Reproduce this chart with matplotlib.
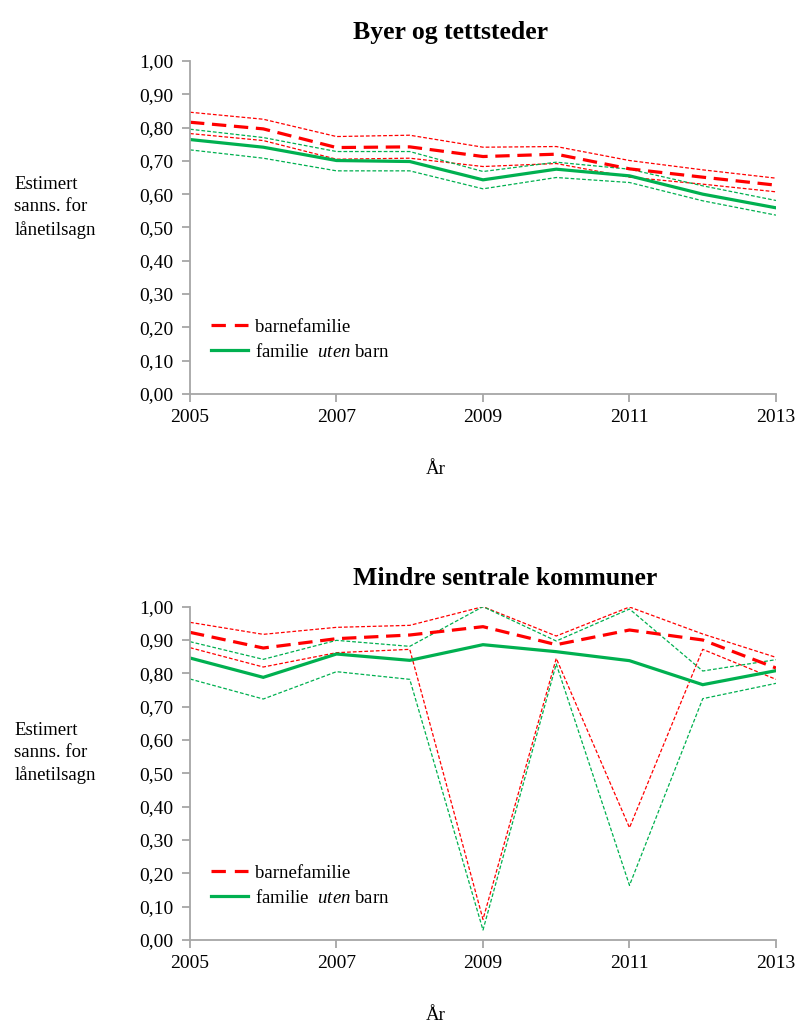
import numpy as np
import matplotlib
matplotlib.use("Agg")
from matplotlib import pyplot as plt
from matplotlib.lines import Line2D

plt.rcParams['font.family'] = ['Liberation Serif', 'DejaVu Serif']
plt.rcParams['mathtext.fontset'] = 'custom'
plt.rcParams['mathtext.rm'] = 'Liberation Serif'
plt.rcParams['mathtext.it'] = 'Liberation Serif:italic'

years = [2005, 2006, 2007, 2008, 2009, 2010, 2011, 2012, 2013]
year_ticks = [2005, 2007, 2009, 2011, 2013]
y_ticks = [0.0, 0.1, 0.2, 0.3, 0.4, 0.5, 0.6, 0.7, 0.8, 0.9, 1.0]

# Byer og tettsteder: estimate with lower/upper confidence band
byer_barn = [0.816, 0.796, 0.740, 0.742, 0.713, 0.720, 0.676, 0.651, 0.627]
byer_barn_lo = [0.782, 0.761, 0.705, 0.708, 0.683, 0.692, 0.651, 0.630, 0.607]
byer_barn_hi = [0.846, 0.825, 0.773, 0.777, 0.741, 0.743, 0.701, 0.673, 0.648]
byer_uten = [0.764, 0.741, 0.701, 0.698, 0.643, 0.675, 0.655, 0.600, 0.559]
byer_uten_lo = [0.733, 0.708, 0.670, 0.670, 0.616, 0.650, 0.635, 0.580, 0.537]
byer_uten_hi = [0.795, 0.770, 0.728, 0.728, 0.668, 0.696, 0.675, 0.625, 0.581]

# Mindre sentrale kommuner
mindre_barn = [0.923, 0.876, 0.904, 0.915, 0.940, 0.886, 0.930, 0.900, 0.816]
mindre_barn_lo = [0.877, 0.819, 0.862, 0.872, 0.062, 0.845, 0.337, 0.872, 0.782]
mindre_barn_hi = [0.953, 0.917, 0.938, 0.944, 1.000, 0.912, 0.999, 0.918, 0.848]
mindre_uten = [0.846, 0.788, 0.858, 0.839, 0.886, 0.865, 0.838, 0.766, 0.808]
mindre_uten_lo = [0.783, 0.723, 0.805, 0.782, 0.030, 0.828, 0.164, 0.724, 0.770]
mindre_uten_hi = [0.895, 0.842, 0.899, 0.881, 1.000, 0.897, 0.993, 0.807, 0.841]

RED = '#FF0000'
GREEN = '#00B050'
AXIS_GREY = '#A6A6A6'


def draw_panel(ax, title, barn, barn_lo, barn_hi, uten, uten_lo, uten_hi):
    dot = dict(lw=0.9, ls=(0, (3, 1.6)))
    ax.plot(years, barn_hi, color=RED, **dot)
    ax.plot(years, barn_lo, color=RED, **dot)
    ax.plot(years, uten_hi, color=GREEN, **dot)
    ax.plot(years, uten_lo, color=GREEN, **dot)
    ax.plot(years, uten, color=GREEN, lw=2.3, solid_joinstyle='miter')
    ax.plot(years, barn, color=RED, lw=2.3, dashes=(4.5, 2.4))

    ax.set_xlim(2005, 2013)
    ax.set_ylim(0, 1)
    ax.set_xticks(year_ticks)
    ax.set_yticks(y_ticks)
    ax.set_yticklabels([f'{v:.2f}'.replace('.', ',') for v in y_ticks])
    for side in ['top', 'right']:
        ax.spines[side].set_visible(False)
    for side in ['left', 'bottom']:
        ax.spines[side].set_color(AXIS_GREY)
        ax.spines[side].set_linewidth(1.3)
    ax.tick_params(axis='both', direction='out', length=6, width=1.3,
                   color=AXIS_GREY, labelsize=14)
    ax.tick_params(axis='y', pad=6)
    ax.tick_params(axis='x', pad=5)

    # title starts at a fixed x, a little above the plot area
    ax.text(0.279, 1.085, title, transform=ax.transAxes, fontsize=18.5,
            fontweight='bold', ha='left', va='center')
    ax.set_xlabel('År', fontsize=13.5, labelpad=25)
    ax.xaxis.set_label_coords(0.42, -0.20)
    ax.text(-0.30, 0.56, 'Estimert\nsanns. for\nlånetilsagn', transform=ax.transAxes,
            fontsize=13.5, ha='left', va='center', linespacing=1.38)

    handles = [Line2D([], [], color=RED, lw=2.3, dashes=(4.5, 2.8)),
               Line2D([], [], color=GREEN, lw=2.3)]
    ax.legend(handles, ['barnefamilie', r'familie  $\mathit{uten}$ barn'],
              loc='lower left', bbox_to_anchor=(0.035, 0.10), frameon=False,
              fontsize=13.5, handlelength=2.0, handletextpad=0.35, labelspacing=0.38,
              borderaxespad=0.0, borderpad=0.0)


fig = plt.figure(figsize=(7.99, 10.26), dpi=100)
ax1 = fig.add_axes([0.2378, 0.6160, 0.7334, 0.3246])
ax2 = fig.add_axes([0.2378, 0.0838, 0.7334, 0.3249])

draw_panel(ax1, 'Byer og tettsteder', byer_barn, byer_barn_lo, byer_barn_hi,
           byer_uten, byer_uten_lo, byer_uten_hi)
draw_panel(ax2, 'Mindre sentrale kommuner', mindre_barn, mindre_barn_lo, mindre_barn_hi,
           mindre_uten, mindre_uten_lo, mindre_uten_hi)

fig.savefig('out.png', dpi=100, facecolor='white')
